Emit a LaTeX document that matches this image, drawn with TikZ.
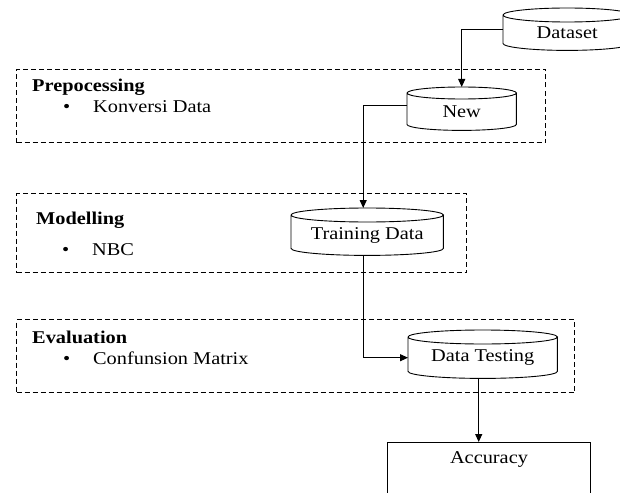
\documentclass[tikz,border=0pt]{standalone}
\usepackage{fontspec}
\setmainfont{Liberation Serif}[FakeStretch=1.13]
\usetikzlibrary{arrows.meta,calc}

\tikzset{
  x=1pt, y=-1pt,
  drumbody/.style={draw=none, inner sep=0pt, anchor=north west, font=\fontsize{18}{20}\selectfont},
  stage/.style={draw, dash pattern=on 5pt off 3pt, line width=1pt, anchor=north west, inner sep=0pt},
  flow/.style={line width=1.1pt, -{Triangle[length=8pt,width=7pt]}},
  txt/.style={anchor=base west, inner sep=0pt, font=\fontsize{18}{20}\selectfont},
  head/.style={txt, font=\fontsize{18}{20}\selectfont\bfseries},
}

% outline of a drum: the node is the body below the centre of the top ellipse
\newcommand\drumoutline[2]{%
  \draw[line width=0.9pt] let \p1=(#1.north west), \p2=(#1.south east), \n1={(\x2-\x1)/2} in
    (\x1,\y1) arc[start angle=180, end angle=-180, x radius=\n1, y radius=#2pt]
    (\x1,\y1) -- (\x1,\y2+#2pt) arc[start angle=180, end angle=360, x radius=\n1, y radius=#2pt] -- (\x2,\y1);
}

\begin{document}
\begin{tikzpicture}
\clip (0,0) rectangle (620,492);

% stage frames
\node (prep)  [stage, minimum width=529pt, minimum height=73pt] at (16,69) {};
\node (model) [stage, minimum width=450pt, minimum height=79pt] at (16,193) {};
\node (evalu) [stage, minimum width=558pt, minimum height=73pt] at (16,319) {};

% stage labels
\node (t1) [head] at (32,92) {Prepocessing};
\node (b1) [txt] at (63,113) {\makebox[30pt][l]{\textbullet}Konversi Data};
\node (t2) [head] at (36,224) {Modelling};
\node (b2) [txt] at (62,255) {\makebox[30pt][l]{\textbullet}NBC};
\node (t3) [head] at (32,343) {Evaluation};
\node (b3) [txt] at (63,364) {\makebox[30pt][l]{\textbullet}Confunsion Matrix};

% data stores
\node (Dataset) [drumbody, minimum width=128pt, minimum height=35pt] at (503,15) {Dataset};
\drumoutline{Dataset}{7}
\node (New) [drumbody, minimum width=109pt, minimum height=37pt] at (407,93) {New};
\drumoutline{New}{6}
\node (Train) [drumbody, minimum width=152pt, minimum height=40pt] at (291,215) {Training Data};
\drumoutline{Train}{7}
\node (Test) [drumbody, minimum width=149pt, minimum height=41pt] at (408,337) {Data Testing};
\drumoutline{Test}{7}

\coordinate (New-top) at ($(New.north)+(0,-6)$);
\coordinate (Train-top) at ($(Train.north)+(-4,-7)$);
\coordinate (Train-out) at ($(Train.south)+(-4,0)$);
\coordinate (Test-out) at ($(Test.south)+(-4,0)$);

% result
\node (Acc) [draw, line width=1pt, anchor=north west, minimum width=203pt, minimum height=70pt,
  inner sep=4pt, text height=17pt, text depth=45pt, font=\fontsize{18}{20}\selectfont] at (387,442) {Accuracy};

% flow
\draw[flow] ([yshift=3pt]Dataset.west) -| (New-top);
\draw[flow] ([yshift=6pt]New.west) -| (Train-top);
\draw[flow] (Train-out) |- (Test.west);
\draw[flow] (Test-out) -- (Test-out |- Acc.north);
\end{tikzpicture}
\end{document}
